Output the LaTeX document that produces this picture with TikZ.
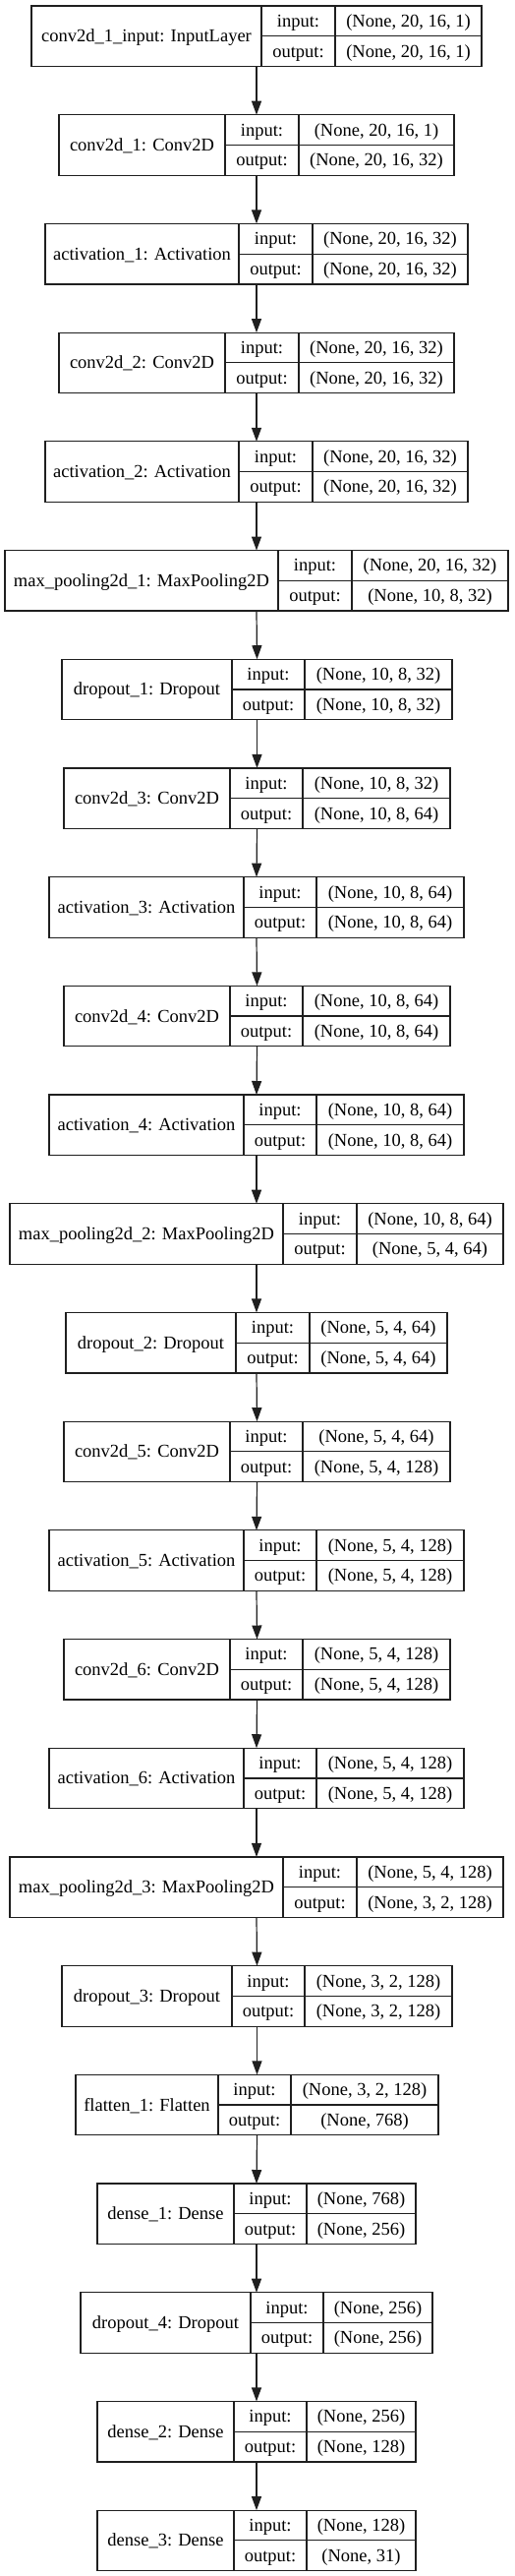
\documentclass[tikz,border=0pt]{standalone}
\usepackage{fontspec}
\setmainfont{Liberation Serif}
\usetikzlibrary{arrows.meta}
\tikzset{
  boxframe/.style={draw=black!88, line width=1.2pt, inner sep=0pt, outer sep=0pt, rectangle},
  divline/.style={draw=black!88, line width=1.2pt},
  txt/.style={anchor=base, inner sep=0pt, font=\fontsize{18.5}{22}\selectfont, text=black},
  flow/.style={draw=black!88, line width=1.2pt, -{Triangle[length=14pt,width=10pt]}}
}
\newcommand\klayer[8]{%
  \pgfmathsetmacro\kty{6+110.7*#1}%
  \pgfmathsetmacro\kby{\kty+61.5}%
  \pgfmathsetmacro\kmy{\kty+30.75}%
  \pgfmathsetmacro\kw{#5-#2}%
  \pgfmathsetmacro\kcx{(#2+#5)/2}%
  \node[boxframe, minimum width=\kw pt, minimum height=61.5pt] (b#1) at (\kcx,\kmy) {};
  \draw[divline] (#3,\kty) -- (#3,\kby);
  \draw[divline] (#4,\kty) -- (#4,\kby);
  \draw[divline] (#3,\kmy) -- (#5,\kmy);
  \node[txt] (name#1) at ({(#2+#3)/2},\kmy+6) {#6};
  \node[txt] (inl#1) at ({(#3+#4)/2},\kty+21.4) {input:};
  \node[txt] (outl#1) at ({(#3+#4)/2},\kmy+21.4) {output:};
  \node[txt] (inv#1) at ({(#4+#5)/2},\kty+21.4) {#7};
  \node[txt] (outv#1) at ({(#4+#5)/2},\kmy+21.4) {#8};
}
\begin{document}
\begin{tikzpicture}[x=1pt,y=-1pt]
\useasboundingbox (0,0) rectangle (523,2619);
\klayer{0}{32}{266}{341}{490}{conv2d\_1\_input: InputLayer}{(None, 20, 16, 1)}{(None, 20, 16, 1)}
\klayer{1}{60}{229}{304}{462}{conv2d\_1: Conv2D}{(None, 20, 16, 1)}{(None, 20, 16, 32)}
\klayer{2}{46}{243}{318}{476}{activation\_1: Activation}{(None, 20, 16, 32)}{(None, 20, 16, 32)}
\klayer{3}{60}{229}{304}{462}{conv2d\_2: Conv2D}{(None, 20, 16, 32)}{(None, 20, 16, 32)}
\klayer{4}{46}{243}{318}{476}{activation\_2: Activation}{(None, 20, 16, 32)}{(None, 20, 16, 32)}
\klayer{5}{5}{283}{358}{517}{max\_pooling2d\_1: MaxPooling2D}{(None, 20, 16, 32)}{(None, 10, 8, 32)}
\klayer{6}{63}{236}{310}{460}{dropout\_1: Dropout}{(None, 10, 8, 32)}{(None, 10, 8, 32)}
\klayer{7}{65}{234}{308}{458}{conv2d\_3: Conv2D}{(None, 10, 8, 32)}{(None, 10, 8, 64)}
\klayer{8}{50}{248}{322}{472}{activation\_3: Activation}{(None, 10, 8, 64)}{(None, 10, 8, 64)}
\klayer{9}{65}{234}{308}{458}{conv2d\_4: Conv2D}{(None, 10, 8, 64)}{(None, 10, 8, 64)}
\klayer{10}{50}{248}{322}{472}{activation\_4: Activation}{(None, 10, 8, 64)}{(None, 10, 8, 64)}
\klayer{11}{10}{288}{363}{512}{max\_pooling2d\_2: MaxPooling2D}{(None, 10, 8, 64)}{(None, 5, 4, 64)}
\klayer{12}{67}{240}{315}{455}{dropout\_2: Dropout}{(None, 5, 4, 64)}{(None, 5, 4, 64)}
\klayer{13}{65}{234}{308}{458}{conv2d\_5: Conv2D}{(None, 5, 4, 64)}{(None, 5, 4, 128)}
\klayer{14}{50}{248}{322}{472}{activation\_5: Activation}{(None, 5, 4, 128)}{(None, 5, 4, 128)}
\klayer{15}{65}{234}{308}{458}{conv2d\_6: Conv2D}{(None, 5, 4, 128)}{(None, 5, 4, 128)}
\klayer{16}{50}{248}{322}{472}{activation\_6: Activation}{(None, 5, 4, 128)}{(None, 5, 4, 128)}
\klayer{17}{10}{288}{363}{512}{max\_pooling2d\_3: MaxPooling2D}{(None, 5, 4, 128)}{(None, 3, 2, 128)}
\klayer{18}{63}{236}{310}{460}{dropout\_3: Dropout}{(None, 3, 2, 128)}{(None, 3, 2, 128)}
\klayer{19}{77}{222}{296}{446}{flatten\_1: Flatten}{(None, 3, 2, 128)}{(None, 768)}
\klayer{20}{99}{238}{312}{423}{dense\_1: Dense}{(None, 768)}{(None, 256)}
\klayer{21}{82}{255}{329}{440}{dropout\_4: Dropout}{(None, 256)}{(None, 256)}
\klayer{22}{99}{238}{312}{423}{dense\_2: Dense}{(None, 256)}{(None, 128)}
\klayer{23}{99}{238}{312}{423}{dense\_3: Dense}{(None, 128)}{(None, 31)}
\foreach \i in {0,...,22}{
  \pgfmathtruncatemacro\j{\i+1}
  \draw[flow] (b\i.south) -- (b\j.north);
}
\end{tikzpicture}
\end{document}
